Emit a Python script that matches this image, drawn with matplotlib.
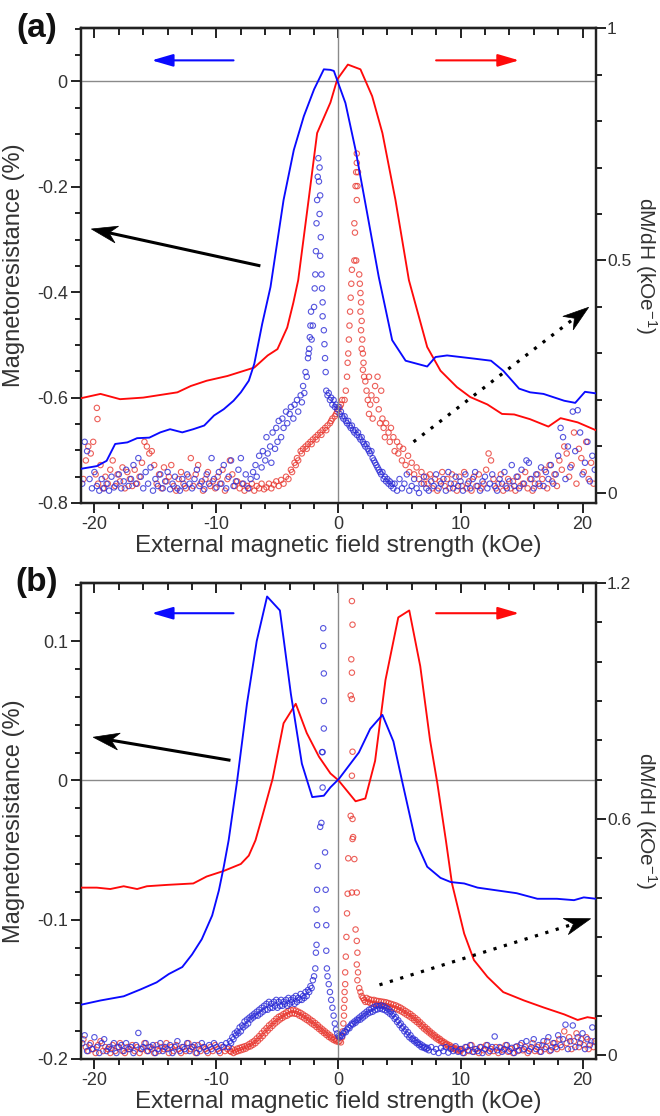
import numpy as np
from matplotlib import pyplot as plt
from matplotlib.ticker import MultipleLocator, FuncFormatter
from matplotlib.patches import Polygon
from matplotlib.transforms import IdentityTransform

plt.rcParams['font.family'] = ['Liberation Sans', 'DejaVu Sans']
plt.rcParams['axes.unicode_minus'] = False
plt.rcParams['mathtext.default'] = 'regular'

BLUE = '#0a0aff'
RED = '#ff0a0a'
TXT = '#333333'

# ---------------- (a) magnetoresistance ----------------
mr_a_blue_h = [-21.07, -19.8, -19.0, -18.3, -17.3, -16.5, -15.5, -14.6, -13.8, -12.8,
               -11.9, -11.0, -10.2, -9.4, -8.6, -8.0, -7.35, -6.9, -6.25, -5.57,
               -4.5, -3.66, -2.84, -2.0, -1.2, -0.66, -0.38, 0.57, 1.4, 2.35,
               3.3, 4.4, 5.5, 7.27, 7.95, 8.9, 11.1, 12.5, 13.5, 14.8,
               15.7, 16.8, 18.5, 19.4, 20.2, 21.1]
mr_a_blue = [-0.735, -0.73, -0.72, -0.688, -0.685, -0.677, -0.676, -0.666, -0.66, -0.666,
             -0.66, -0.653, -0.634, -0.622, -0.606, -0.59, -0.568, -0.536, -0.46, -0.39,
             -0.225, -0.13, -0.066, -0.015, 0.023, 0.022, 0.02, -0.041, -0.13, -0.25,
             -0.371, -0.491, -0.53, -0.541, -0.523, -0.52, -0.526, -0.53, -0.549, -0.583,
             -0.59, -0.593, -0.606, -0.61, -0.589, -0.592]
mr_a_red_h = [-21.07, -19.5, -17.9, -16.0, -13.2, -12.1, -10.8, -9.1, -6.9, -5.8,
              -5.0, -4.2, -3.7, -3.3, -2.45, -1.75, -0.66, -0.1, 0.77, 1.8,
              2.76, 3.6, 4.67, 5.77, 7.27, 8.36, 9.7, 10.8, 12.2, 13.4,
              14.4, 15.7, 17.2, 18.2, 19.6, 21.1]
mr_a_red = [-0.601, -0.593, -0.603, -0.6, -0.59, -0.578, -0.568, -0.559, -0.543, -0.52,
            -0.508, -0.467, -0.42, -0.377, -0.225, -0.098, -0.04, 0.004, 0.032, 0.023,
            -0.028, -0.098, -0.225, -0.377, -0.504, -0.549, -0.58, -0.599, -0.613, -0.631,
            -0.632, -0.641, -0.655, -0.639, -0.647, -0.662]

# ---------------- (a) dM/dH, blue sweep ----------------
dm_a_blue_h = [-21.0, -20.8, -20.6, -20.4, -20.2, -20.0, -19.8, -19.6, -19.4, -19.2,
               -19.0, -18.8, -18.6, -18.4, -18.2, -18.0, -17.8, -17.6, -17.4, -17.2,
               -17.0, -16.8, -16.6, -16.4, -16.2, -16.0, -15.8, -15.6, -15.4, -15.2,
               -15.0, -14.8, -14.6, -14.4, -14.2, -14.0, -13.8, -13.6, -13.4, -13.2,
               -13.0, -12.8, -12.6, -12.4, -12.2, -12.0, -11.8, -11.6, -11.4, -11.2,
               -11.0, -10.8, -10.6, -10.4, -10.2, -10.0, -9.8, -9.6, -9.4, -9.2,
               -9.0, -8.8, -8.6, -8.4, -8.2, -8.0, -7.8, -7.6, -7.4, -7.2,
               # rise towards the switching field
               -7.0, -6.8, -6.7, -6.5, -6.3, -6.2, -6.0, -5.9, -5.8, -5.6,
               -5.5, -5.4, -5.2, -5.1, -5.0, -4.9, -4.7, -4.6, -4.5, -4.3,
               -4.2, -4.0, -3.9, -3.7, -3.6, -3.4, -3.3, -3.1, -3.0, -2.9,
               -2.8, -2.7, -2.6, -2.5, -2.45, -2.4, -2.35, -2.3, -2.25, -2.2,
               -2.1, -2.0, -1.95, -1.9, -1.85, -1.8, -1.75, -1.7, -1.65,
               -1.55, -1.6, -1.5, -1.55, -1.45, -1.5, -1.4, -1.35, -1.3, -1.3,
               -1.2, -1.15, -1.1, -1.05,
               # decay after switching
               -1.0, -0.9, -0.8, -0.7, -0.6, -0.5, -0.4, -0.3, -0.2, -0.1,
               0.0, 0.1, 0.2, 0.3, 0.4, 0.5, 0.6, 0.7, 0.8, 0.9,
               1.0, 1.1, 1.2, 1.3, 1.4, 1.5, 1.6, 1.7, 1.8, 1.9,
               2.0, 2.1, 2.2, 2.3, 2.4, 2.5, 2.6, 2.7, 2.8, 2.9,
               3.0, 3.1, 3.2, 3.3, 3.4, 3.5, 3.6, 3.7, 3.8, 3.9,
               4.0, 4.1, 4.2, 4.3, 4.4, 4.5,
               4.6, 4.8, 5.0, 5.2, 5.4, 5.6, 5.8, 6.0, 6.2, 6.4,
               6.6, 6.8, 7.0, 7.2, 7.4, 7.6, 7.8, 8.0, 8.2, 8.4,
               8.6, 8.8, 9.0, 9.2, 9.4, 9.6, 9.8, 10.0, 10.2, 10.4,
               10.6, 10.8, 11.0, 11.2, 11.4, 11.6, 11.8, 12.0, 12.2, 12.4,
               12.6, 12.8, 13.0, 13.2, 13.4, 13.6, 13.8, 14.0, 14.2, 14.4,
               14.6, 14.8, 15.0, 15.2, 15.4, 15.6, 15.8, 16.0, 16.2, 16.4,
               16.6, 16.8, 17.0, 17.2, 17.4, 17.6, 17.8, 18.0, 18.2, 18.4,
               18.6, 18.8, 19.0, 19.2, 19.4, 19.6, 19.8, 20.0, 20.2, 20.4,
               20.6, 20.8, 21.0]
dm_a_blue = [0.02, 0.11, 0.09, 0.03, 0.01, 0.045, 0.015, 0.005, 0.03, 0.01,
             0.02, 0.005, 0.035, 0.012, 0.02, 0.04, 0.01, 0.025, 0.05, 0.015,
             0.03, 0.06, 0.02, 0.075, 0.035, 0.01, 0.045, 0.02, 0.055, 0.005,
             0.03, 0.015, 0.04, 0.01, 0.025, 0.045, 0.008, 0.02, 0.035, 0.01,
             0.005, 0.03, 0.015, 0.04, 0.02, 0.01, 0.03, 0.05, 0.015, 0.025,
             0.008, 0.04, 0.02, 0.075, 0.03, 0.012, 0.045, 0.02, 0.06, 0.01,
             0.035, 0.07, 0.015, 0.025, 0.05, 0.075, 0.02, 0.04, 0.01, 0.03,
             0.045, 0.06, 0.035, 0.08, 0.055, 0.09, 0.07, 0.12, 0.085, 0.1,
             0.065, 0.13, 0.095, 0.14, 0.11, 0.155, 0.12, 0.16, 0.14, 0.175,
             0.15, 0.17, 0.185, 0.16, 0.19, 0.2, 0.175, 0.21, 0.195, 0.23,
             0.215, 0.26, 0.25, 0.29, 0.3, 0.31, 0.335, 0.36, 0.39, 0.33,
             0.36, 0.40, 0.44, 0.47, 0.52, 0.58, 0.63, 0.68, 0.72,
             0.70, 0.67, 0.64, 0.60, 0.55, 0.51, 0.47, 0.44, 0.41, 0.38,
             0.35, 0.32, 0.29, 0.26,
             0.22, 0.21, 0.215, 0.2, 0.205, 0.19, 0.2, 0.185, 0.19, 0.18,
             0.185, 0.17, 0.175, 0.165, 0.16, 0.165, 0.155, 0.15, 0.155, 0.145,
             0.14, 0.145, 0.135, 0.13, 0.135, 0.125, 0.13, 0.12, 0.115, 0.12,
             0.11, 0.105, 0.1, 0.105, 0.095, 0.09, 0.085, 0.09, 0.075, 0.07,
             0.065, 0.06, 0.055, 0.05, 0.045, 0.04, 0.045, 0.03, 0.035, 0.025,
             0.03, 0.02, 0.025, 0.015, 0.02, 0.01,
             0.02, 0.005, 0.03, 0.01, 0.02, 0.04, 0.005, 0.015, 0.03, 0.01,
             0.0, 0.02, 0.035, 0.01, 0.005, 0.025, 0.015, 0.04, 0.01, 0.02,
             0.03, 0.005, 0.045, 0.02, 0.01, 0.035, 0.015, 0.025, 0.005, 0.04,
             0.02, 0.01, 0.03, 0.045, 0.015, 0.005, 0.025, 0.035, 0.01, 0.02,
             0.04, 0.015, 0.005, 0.03, 0.02, 0.045, 0.01, 0.025, 0.06, 0.015,
             0.035, 0.01, 0.05, 0.02, 0.07, 0.065, 0.03, 0.01, 0.04, 0.02,
             0.055, 0.015, 0.045, 0.03, 0.06, 0.02, 0.04, 0.08, 0.14, 0.12,
             0.03, 0.1, 0.055, 0.175, 0.09, 0.178, 0.13, 0.04, 0.065, 0.11,
             0.025, 0.08, 0.05]

# ---------------- (a) dM/dH, red sweep ----------------
dm_a_red_h = [-20.9, -20.7, -20.5, -20.3, -20.1, -19.9, -19.7, -19.5, -19.3, -19.1,
              -18.9, -18.7, -18.5, -18.3, -18.1, -17.9, -17.7, -17.5, -17.3, -17.1,
              -16.9, -16.7, -16.5, -16.3, -16.1, -15.9, -15.7, -15.5, -15.3, -15.1,
              -14.9, -14.7, -14.5, -14.3, -14.1, -13.9, -13.7, -13.5, -13.3, -13.1,
              -12.9, -12.7, -12.5, -12.3, -12.1, -11.9, -11.7, -11.5, -11.3, -11.1,
              -10.9, -10.7, -10.5, -10.3, -10.1, -9.9, -9.7, -9.5, -9.3, -9.1,
              -8.9, -8.7, -8.5, -8.3, -8.1, -7.9, -7.7, -7.5, -7.3, -7.1,
              -6.9, -6.7, -6.5, -6.3, -6.1, -19.8, -19.75,
              -5.9, -5.7, -5.5, -5.3, -5.1, -4.9, -4.7, -4.5, -4.3, -4.1,
              -3.9, -3.8, -3.6, -3.5, -3.4, -3.3, -3.1, -3.0, -2.9, -2.7,
              -2.6, -2.5, -2.3, -2.2, -2.1, -1.9, -1.8, -1.7, -1.5, -1.4,
              -1.3, -1.1, -1.0, -0.9, -0.7, -0.6, -0.5, -0.3, -0.2, -0.1,
              0.0, 0.1, 0.2, 0.3,
              0.5, 0.6, 0.7, 0.75, 0.8, 0.85, 0.9, 0.95, 1.0, 1.05,
              1.1, 1.3, 1.45, 1.35, 1.3, 1.5, 1.4, 1.55, 1.45, 1.6,
              1.5, 1.5,
              1.7, 1.75, 1.8, 1.85, 1.8, 1.9, 1.85, 1.95, 1.9, 2.0,
              2.05, 2.0, 2.1, 2.2, 2.3, 2.5, 2.4, 2.6, 2.7, 2.5,
              2.8, 3.0, 3.2, 3.1, 3.3, 3.5, 3.4, 3.6, 3.7, 3.8,
              3.9, 4.1, 4.2, 4.3, 4.5, 4.6, 4.8, 4.9, 5.0, 5.2,
              5.3, 5.5, 5.7, 5.8, 6.0, 6.2, 6.4, 6.6, 6.8, 7.0,
              7.2,
              7.3, 7.5, 7.7, 7.9, 8.1, 8.3, 8.5, 8.7, 8.9, 9.1,
              9.3, 9.5, 9.7, 9.9, 10.1, 10.3, 10.5, 10.7, 10.9, 11.1,
              11.3, 11.5, 11.7, 11.9, 12.1, 12.3, 12.5, 12.7, 12.9, 13.1,
              13.3, 13.5, 13.7, 13.9, 14.1, 14.3, 14.5, 14.7, 14.9, 15.1,
              15.3, 15.5, 15.7, 15.9, 16.1, 16.3, 16.5, 16.7, 16.9, 17.1,
              17.3, 17.5, 17.7, 17.9, 18.1, 18.3, 18.5, 18.7, 18.9, 19.1,
              19.3, 19.5, 19.7, 19.9, 20.1, 20.3, 20.5, 20.7, 20.9]
dm_a_red = [0.03, 0.07, 0.1, 0.085, 0.11, 0.04, 0.02, 0.06, 0.01, 0.035,
            0.02, 0.05, 0.07, 0.015, 0.04, 0.025, 0.055, 0.01, 0.045, 0.03,
            0.015, 0.05, 0.02, 0.035, 0.065, 0.11, 0.1, 0.085, 0.09, 0.06,
            0.02, 0.04, 0.01, 0.055, 0.025, 0.035, 0.06, 0.015, 0.005, 0.03,
            0.045, 0.02, 0.01, 0.035, 0.075, 0.015, 0.04, 0.06, 0.02, 0.005,
            0.03, 0.045, 0.015, 0.025, 0.01, 0.035, 0.02, 0.05, 0.005, 0.03,
            0.07, 0.04, 0.015, 0.025, 0.01, 0.02, 0.005, 0.015, 0.01, 0.02,
            0.005, 0.015, 0.01, 0.02, 0.008, 0.183, 0.159,
            0.012, 0.02, 0.01, 0.018, 0.025, 0.015, 0.028, 0.02, 0.035, 0.03,
            0.05, 0.045, 0.065, 0.06, 0.075, 0.07, 0.09, 0.085, 0.095, 0.1,
            0.095, 0.105, 0.11, 0.105, 0.115, 0.12, 0.115, 0.125, 0.13, 0.125,
            0.135, 0.14, 0.135, 0.145, 0.15, 0.155, 0.16, 0.165, 0.17, 0.175,
            0.18, 0.185, 0.19, 0.2,
            0.2, 0.22, 0.25, 0.28, 0.3, 0.33, 0.36, 0.39, 0.42, 0.45,
            0.48, 0.5, 0.5, 0.56, 0.58, 0.63, 0.66, 0.66, 0.69, 0.69,
            0.71, 0.73,
            0.47, 0.45, 0.43, 0.41, 0.39, 0.37, 0.35, 0.33, 0.31, 0.3,
            0.28, 0.265, 0.25, 0.24, 0.22, 0.25, 0.2, 0.19, 0.21, 0.17,
            0.16, 0.23, 0.25, 0.2, 0.18, 0.22, 0.15, 0.16, 0.14, 0.12,
            0.15, 0.13, 0.11, 0.14, 0.12, 0.09, 0.11, 0.085, 0.1, 0.07,
            0.095, 0.06, 0.08, 0.045, 0.065, 0.04, 0.055, 0.03, 0.045, 0.02,
            0.035,
            0.02, 0.04, 0.01, 0.03, 0.005, 0.025, 0.045, 0.015, 0.03, 0.01,
            0.04, 0.02, 0.005, 0.035, 0.015, 0.045, 0.01, 0.025, 0.005, 0.035,
            0.015, 0.04, 0.01, 0.02, 0.05, 0.085, 0.07, 0.03, 0.01, 0.02,
            0.04, 0.005, 0.015, 0.03, 0.01, 0.025, 0.005, 0.035, 0.015, 0.02,
            0.045, 0.01, 0.03, 0.005, 0.02, 0.04, 0.015, 0.03, 0.05, 0.01,
            0.06, 0.025, 0.04, 0.015, 0.07, 0.05, 0.1, 0.085, 0.035, 0.06,
            0.13, 0.02, 0.095, 0.075, 0.045, 0.11, 0.03, 0.065, 0.02]

# ---------------- (b) magnetoresistance ----------------
mr_b_blue_h = [-21.07, -19.5, -17.6, -16.2, -14.9, -13.9, -12.8, -12.0, -11.2, -10.35,
               -9.8, -9.4, -9.0, -8.3, -7.5, -6.7, -5.85, -4.8, -3.9, -3.0,
               -2.15, -1.2, -0.66, 0.03, 1.67, 2.6, 3.6, 4.5, 5.2, 6.3,
               7.27, 8.36, 9.2, 10.3, 11.4, 13.0, 14.6, 16.3, 17.9, 19.3,
               20.1, 21.1]
mr_b_blue = [-0.161, -0.158, -0.155, -0.15, -0.145, -0.139, -0.134, -0.125, -0.114, -0.097,
             -0.079, -0.062, -0.043, 0.0, 0.055, 0.1, 0.132, 0.122, 0.062, 0.012,
             -0.012, -0.011, -0.005, 0.001, 0.02, 0.037, 0.047, 0.028, 0.0, -0.043,
             -0.062, -0.07, -0.073, -0.074, -0.077, -0.079, -0.081, -0.085, -0.085, -0.086,
             -0.084, -0.085]
mr_b_red_h = [-21.07, -19.8, -18.7, -17.6, -16.5, -15.7, -14.0, -11.9, -10.8, -9.4,
              -8.0, -7.35, -6.8, -6.25, -5.4, -4.5, -3.5, -2.6, -1.6, -0.66,
              0.0, 1.4, 2.2, 3.0, 3.85, 4.9, 5.8, 6.7, 7.5, 8.1,
              8.8, 9.3, 10.3, 11.1, 12.2, 13.5, 15.2, 16.8, 18.5, 19.6,
              20.4, 21.1]
mr_b_red = [-0.077, -0.077, -0.078, -0.076, -0.078, -0.076, -0.075, -0.074, -0.069, -0.065,
            -0.06, -0.054, -0.043, -0.026, 0.001, 0.041, 0.055, 0.034, 0.017, 0.005,
            0.0, -0.015, -0.013, 0.014, 0.072, 0.117, 0.122, 0.082, 0.029, -0.002,
            -0.043, -0.074, -0.11, -0.129, -0.141, -0.152, -0.158, -0.163, -0.168, -0.172,
            -0.170, -0.171]

# ---------------- (b) dM/dH, blue sweep ----------------
dm_b_blue_h = [-21.0, -20.8, -20.6, -20.4, -20.2, -20.0, -19.8, -19.6, -19.4, -19.2,
               -19.0, -18.8, -18.6, -18.4, -18.2, -18.0, -17.8, -17.6, -17.4, -17.2,
               -17.0, -16.8, -16.6, -16.4, -16.2, -16.0, -15.8, -15.6, -15.4, -15.2,
               -15.0, -14.8, -14.6, -14.4, -14.2, -14.0, -13.8, -13.6, -13.4, -13.2,
               -13.0, -12.8, -12.6, -12.4, -12.2, -12.0, -11.8, -11.6, -11.4, -11.2,
               -11.0, -10.8, -10.6, -10.4, -10.2, -10.0, -9.8, -9.6, -9.4, -9.2,
               -9.0, -8.9, -8.8, -8.7, -8.6, -8.5, -8.4, -8.3, -8.2, -8.1,
               -8.0, -7.9, -7.8, -7.7, -7.6, -7.5, -7.4, -7.3, -7.2, -7.1,
               -7.0, -6.9, -6.8, -6.7, -6.6, -6.5, -6.4, -6.3, -6.2, -6.1,
               -6.0, -5.9, -5.8, -5.7, -5.6, -5.5, -5.4, -5.3, -5.2, -5.1,
               -5.0, -4.9, -4.8, -4.7, -4.6, -4.5, -4.4, -4.3, -4.2, -4.1,
               -4.0, -3.9, -3.8, -3.7, -3.6, -3.5, -3.4, -3.3, -3.2, -3.1,
               -3.0, -2.9, -2.8, -2.7, -2.6, -2.5, -2.4, -2.3, -2.2, -2.1,
               -2.0,
               -1.9, -1.85, -1.8, -1.75, -1.8, -1.75, -1.7,
               -1.25, -1.25, -1.2, -1.2, -1.3, -1.35, -1.4, -1.5, -1.1, -1.05,
               -1.0, -1.0, -0.95, -0.9, -1.2, -1.3,
               -0.8, -0.7, -0.6, -0.5, -0.4, -0.3, -0.2, -0.1, 0.0, 0.1,
               0.2, 0.3, 0.4, 0.5, 0.6, 0.7, 0.8, 0.9, 1.0, 1.1,
               1.2, 1.3, 1.4, 1.5, 1.6, 1.7, 1.8, 1.9, 2.0, 2.1,
               2.2, 2.3, 2.4, 2.5, 2.6, 2.7, 2.8, 2.9, 3.0, 3.1,
               3.2, 3.3, 3.4, 3.5, 3.6, 3.7, 3.8, 3.9, 4.0, 4.1,
               4.2, 4.3, 4.4, 4.5, 4.6, 4.7, 4.8, 4.9, 5.0, 5.1,
               5.2, 5.3, 5.4, 5.5, 5.6, 5.7, 5.8, 5.9, 6.0, 6.1,
               6.2, 6.3, 6.4, 6.5, 6.6, 6.7, 6.8, 6.9, 7.0, 7.1,
               7.2, 7.3,
               7.4, 7.6, 7.8, 8.0, 8.2, 8.4, 8.6, 8.8, 9.0, 9.2,
               9.4, 9.6, 9.8, 10.0, 10.2, 10.4, 10.6, 10.8, 11.0, 11.2,
               11.4, 11.6, 11.8, 12.0, 12.2, 12.4, 12.6, 12.8, 13.0, 13.2,
               13.4, 13.6, 13.8, 14.0, 14.2, 14.4, 14.6, 14.8, 15.0, 15.2,
               15.4, 15.6, 15.8, 16.0, 16.2, 16.4, 16.6, 16.8, 17.0, 17.2,
               17.4, 17.6, 17.8, 18.0, 18.2, 18.4, 18.6, 18.8, 19.0, 19.2,
               19.4, 19.6, 19.8, 20.0, 20.2, 20.4, 20.6, 20.8, 21.0]
dm_b_blue = [0.03, 0.05, 0.01, 0.025, 0.015, 0.045, 0.02, 0.005, 0.03, 0.04,
             0.01, 0.02, 0.015, 0.03, 0.005, 0.02, 0.025, 0.01, 0.03, 0.015,
             0.02, 0.005, 0.025, 0.056, 0.015, 0.02, 0.03, 0.01, 0.02, 0.025,
             0.005, 0.015, 0.03, 0.01, 0.02, 0.015, 0.025, 0.005, 0.02, 0.035,
             0.01, 0.02, 0.015, 0.03, 0.01, 0.02, 0.025, 0.005, 0.015, 0.03,
             0.02, 0.01, 0.025, 0.015, 0.03, 0.02, 0.01, 0.025, 0.02, 0.03,
             0.02, 0.035, 0.03, 0.045, 0.04, 0.055, 0.05, 0.06, 0.055, 0.07,
             0.06, 0.075, 0.07, 0.085, 0.075, 0.09, 0.08, 0.095, 0.09, 0.1,
             0.095, 0.105, 0.1, 0.11, 0.1, 0.115, 0.105, 0.12, 0.11, 0.125,
             0.115, 0.13, 0.115, 0.135, 0.12, 0.13, 0.12, 0.135, 0.125, 0.14,
             0.12, 0.135, 0.125, 0.14, 0.125, 0.135, 0.13, 0.14, 0.125, 0.145,
             0.13, 0.14, 0.135, 0.145, 0.13, 0.15, 0.135, 0.145, 0.14, 0.155,
             0.14, 0.15, 0.145, 0.16, 0.15, 0.165, 0.16, 0.175, 0.17, 0.19,
             0.2,
             0.22, 0.26, 0.28, 0.33, 0.37, 0.42, 0.48,
             1.085, 1.04, 0.97, 0.83, 0.77, 0.77, 0.59, 0.58, 0.515, 0.42,
             0.33, 0.265, 0.22, 0.2, 0.9, 0.68,
             0.18, 0.16, 0.14, 0.12, 0.1, 0.08, 0.065, 0.055, 0.048, 0.045,
             0.05, 0.048, 0.055, 0.06, 0.058, 0.065, 0.07, 0.068, 0.075, 0.08,
             0.078, 0.085, 0.082, 0.09, 0.088, 0.095, 0.09, 0.1, 0.095, 0.105,
             0.1, 0.11, 0.105, 0.115, 0.108, 0.118, 0.11, 0.122, 0.114, 0.125,
             0.116, 0.124, 0.118, 0.126, 0.116, 0.124, 0.114, 0.12, 0.11, 0.116,
             0.105, 0.11, 0.1, 0.104, 0.092, 0.096, 0.084, 0.088, 0.076, 0.08,
             0.068, 0.072, 0.06, 0.065, 0.052, 0.058, 0.045, 0.05, 0.04, 0.042,
             0.035, 0.038, 0.03, 0.032, 0.025, 0.028, 0.02, 0.024, 0.018, 0.02,
             0.015, 0.018,
             0.012, 0.02, 0.008, 0.015, 0.005, 0.018, 0.01, 0.02, 0.006, 0.015,
             0.01, 0.022, 0.008, 0.015, 0.005, 0.02, 0.012, 0.025, 0.008, 0.015,
             0.01, 0.02, 0.005, 0.015, 0.025, 0.01, 0.02, 0.047, 0.012, 0.02,
             0.008, 0.015, 0.025, 0.01, 0.018, 0.005, 0.022, 0.012, 0.03, 0.015,
             0.035, 0.01, 0.02, 0.04, 0.015, 0.025, 0.008, 0.035, 0.02, 0.045,
             0.012, 0.03, 0.02, 0.05, 0.025, 0.04, 0.077, 0.015, 0.035, 0.075,
             0.02, 0.045, 0.03, 0.055, 0.015, 0.04, 0.025, 0.07, 0.035]

# ---------------- (b) dM/dH, red sweep ----------------
dm_b_red_h = [-20.9, -20.7, -20.5, -20.3, -20.1, -19.9, -19.7, -19.5, -19.3, -19.1,
              -18.9, -18.7, -18.5, -18.3, -18.1, -17.9, -17.7, -17.5, -17.3, -17.1,
              -16.9, -16.7, -16.5, -16.3, -16.1, -15.9, -15.7, -15.5, -15.3, -15.1,
              -14.9, -14.7, -14.5, -14.3, -14.1, -13.9, -13.7, -13.5, -13.3, -13.1,
              -12.9, -12.7, -12.5, -12.3, -12.1, -11.9, -11.7, -11.5, -11.3, -11.1,
              -10.9, -10.7, -10.5, -10.3, -10.1, -9.9, -9.7, -9.5, -9.3, -9.1,
              -8.9,
              -8.8, -8.7, -8.6, -8.5, -8.4, -8.3, -8.2, -8.1, -8.0, -7.9,
              -7.8, -7.7, -7.6, -7.5, -7.4, -7.3, -7.2, -7.1, -7.0, -6.9,
              -6.8, -6.7, -6.6, -6.5, -6.4, -6.3, -6.2, -6.1, -6.0, -5.9,
              -5.8, -5.7, -5.6, -5.5, -5.4, -5.3, -5.2, -5.1, -5.0, -4.9,
              -4.8, -4.7, -4.6, -4.5, -4.4, -4.3, -4.2, -4.1, -4.0, -3.9,
              -3.8, -3.7, -3.6, -3.5, -3.4, -3.3, -3.2, -3.1, -3.0, -2.9,
              -2.8, -2.7, -2.6, -2.5, -2.4, -2.3, -2.2, -2.1, -2.0, -1.9,
              -1.8, -1.7, -1.6, -1.5, -1.4, -1.3, -1.2, -1.1, -1.0, -0.9,
              -0.8, -0.7, -0.6, -0.5, -0.4, -0.3, -0.2, -0.1, 0.0, 0.1,
              0.2,
              0.3, 0.35, 0.4, 0.45, 0.45, 0.5, 0.5, 0.55, 0.55, 0.6,
              0.65, 0.7, 0.75, 0.8,
              1.1, 1.15, 1.05, 1.1, 1.0, 1.1, 1.15, 1.1, 1.0, 1.15,
              1.2, 1.15, 1.3, 1.1, 1.5, 1.4, 1.5, 1.55, 1.5, 1.6,
              1.55, 1.7, 1.8, 1.9, 2.0,
              2.1, 2.2, 2.3, 2.4, 2.5, 2.6, 2.7, 2.8, 2.9, 3.0,
              3.1, 3.2, 3.3, 3.4, 3.5, 3.6, 3.7, 3.8, 3.9, 4.0,
              4.1, 4.2, 4.3, 4.4, 4.5, 4.6, 4.7, 4.8, 4.9, 5.0,
              5.1, 5.2, 5.3, 5.4, 5.5, 5.6, 5.7, 5.8, 5.9, 6.0,
              6.1, 6.2, 6.3, 6.4, 6.5, 6.6, 6.7, 6.8, 6.9, 7.0,
              7.1, 7.2, 7.3, 7.4, 7.5, 7.6, 7.7, 7.8, 7.9, 8.0,
              8.1, 8.2, 8.3, 8.4, 8.5, 8.6, 8.7, 8.8, 8.9, 9.0,
              9.1, 9.2, 9.3, 9.4, 9.5, 9.6, 9.7, 9.8, 9.9, 10.0,
              10.1, 10.3, 10.5, 10.7, 10.9, 11.1, 11.3, 11.5, 11.7, 11.9,
              12.1, 12.3, 12.5, 12.7, 12.9, 13.1, 13.3, 13.5, 13.7, 13.9,
              14.1, 14.3, 14.5, 14.7, 14.9, 15.1, 15.3, 15.5, 15.7, 15.9,
              16.1, 16.3, 16.5, 16.7, 16.9, 17.1, 17.3, 17.5, 17.7, 17.9,
              18.1, 18.3, 18.5, 18.7, 18.9, 19.1, 19.3, 19.5, 19.7, 19.9,
              20.1, 20.3, 20.5, 20.7, 20.9]
dm_b_red = [0.04, 0.02, 0.01, 0.03, 0.015, 0.005, 0.025, 0.035, 0.01, 0.02,
            0.015, 0.005, 0.025, 0.01, 0.02, 0.03, 0.01, 0.005, 0.02, 0.015,
            0.025, 0.01, 0.02, 0.005, 0.015, 0.03, 0.01, 0.02, 0.015, 0.005,
            0.025, 0.01, 0.02, 0.015, 0.03, 0.005, 0.02, 0.01, 0.025, 0.015,
            0.005, 0.02, 0.01, 0.03, 0.015, 0.02, 0.005, 0.025, 0.01, 0.02,
            0.015, 0.005, 0.02, 0.01, 0.025, 0.015, 0.005, 0.02, 0.01, 0.015,
            0.01,
            0.008, 0.015, 0.005, 0.012, 0.008, 0.016, 0.01, 0.018, 0.012, 0.02,
            0.014, 0.022, 0.016, 0.024, 0.02, 0.028, 0.022, 0.032, 0.026, 0.036,
            0.03, 0.042, 0.036, 0.048, 0.042, 0.055, 0.048, 0.062, 0.055, 0.068,
            0.062, 0.075, 0.068, 0.08, 0.074, 0.086, 0.08, 0.092, 0.085, 0.097,
            0.09, 0.1, 0.094, 0.104, 0.098, 0.108, 0.1, 0.112, 0.104, 0.114,
            0.106, 0.115, 0.105, 0.113, 0.104, 0.11, 0.1, 0.107, 0.097, 0.103,
            0.093, 0.099, 0.089, 0.095, 0.085, 0.09, 0.08, 0.086, 0.076, 0.081,
            0.071, 0.076, 0.066, 0.07, 0.061, 0.065, 0.056, 0.06, 0.051, 0.055,
            0.046, 0.05, 0.042, 0.045, 0.038, 0.041, 0.035, 0.038, 0.033, 0.036,
            0.032,
            0.045, 0.06, 0.08, 0.1, 0.12, 0.14, 0.16, 0.18, 0.21, 0.25,
            0.3, 0.36, 0.41, 0.5,
            1.154, 1.094, 1.006, 0.972, 0.914, 0.905, 0.771, 0.71, 0.608, 0.6,
            0.554, 0.549, 0.498, 0.413, 0.413, 0.319, 0.29, 0.26, 0.23, 0.21,
            0.19, 0.17, 0.16, 0.15, 0.145,
            0.14, 0.135, 0.145, 0.135, 0.142, 0.132, 0.14, 0.13, 0.14, 0.13,
            0.138, 0.128, 0.137, 0.127, 0.136, 0.126, 0.135, 0.125, 0.134, 0.124,
            0.132, 0.122, 0.13, 0.12, 0.128, 0.118, 0.126, 0.116, 0.123, 0.113,
            0.12, 0.11, 0.116, 0.106, 0.112, 0.102, 0.108, 0.098, 0.104, 0.094,
            0.099, 0.089, 0.094, 0.084, 0.089, 0.079, 0.083, 0.073, 0.077, 0.067,
            0.071, 0.062, 0.066, 0.057, 0.06, 0.052, 0.055, 0.047, 0.05, 0.042,
            0.045, 0.038, 0.041, 0.034, 0.036, 0.03, 0.032, 0.026, 0.028, 0.022,
            0.025, 0.019, 0.021, 0.016, 0.018, 0.013, 0.016, 0.011, 0.014, 0.01,
            0.015, 0.005, 0.02, 0.01, 0.025, 0.008, 0.015, 0.005, 0.02, 0.012,
            0.025, 0.006, 0.015, 0.01, 0.02, 0.005, 0.018, 0.012, 0.025, 0.008,
            0.015, 0.005, 0.02, 0.01, 0.025, 0.012, 0.02, 0.005, 0.015, 0.03,
            0.01, 0.02, 0.008, 0.025, 0.015, 0.035, 0.01, 0.02, 0.03, 0.015,
            0.04, 0.02, 0.06, 0.03, 0.045, 0.015, 0.035, 0.055, 0.02, 0.04,
            0.025, 0.045, 0.015, 0.035, 0.02]


def fmt(v, pos):
    return '%g' % round(v, 3)


def stealth_head(ax, tail, tip, length=26, half_width=8.5, notch=8):
    # notched arrow head drawn in pixel space so it keeps its shape
    p0 = ax.transData.transform(tail)
    p1 = ax.transData.transform(tip)
    d = (p1 - p0) / np.hypot(*(p1 - p0))
    n = np.array([-d[1], d[0]])
    pts = [p1, p1 - length * d + half_width * n, p1 - (length - notch) * d,
           p1 - length * d - half_width * n]
    ax.add_patch(Polygon(pts, closed=True, facecolor='black', edgecolor='black',
                         lw=0.5, transform=IdentityTransform(), zorder=6,
                         clip_on=False))
    # return where the shaft should stop
    back = p1 - (length - notch) * d
    return ax.transData.inverted().transform(back)


def panel(rect, letter, mr_lines, dm_sets, mr_lim, mr_major, mr_minor,
          dm_lim, dm_major, arrow_y, black, dotted):
    ax = fig.add_axes(rect)
    ax2 = ax.twinx()
    # lines should sit on top of the circles
    ax.set_zorder(ax2.get_zorder() + 1)
    ax.patch.set_visible(False)

    for h, dm, c in dm_sets:
        ax2.scatter(h, dm, s=15, facecolors='none', edgecolors=c,
                    linewidths=0.8, alpha=0.8)
    ax.axhline(0, color='#8a8a8a', lw=1.0, zorder=1)
    ax.axvline(0, color='#8a8a8a', lw=1.0, zorder=1)
    for h, mr, c in mr_lines:
        ax.plot(h, mr, color=c, lw=1.35, zorder=3)

    ax.set_xlim(-21.1, 21.1)
    ax.set_ylim(*mr_lim)
    ax2.set_ylim(*dm_lim)

    ax.xaxis.set_major_locator(MultipleLocator(10))
    ax.xaxis.set_minor_locator(MultipleLocator(2))
    ax.yaxis.set_major_locator(MultipleLocator(mr_major))
    ax.yaxis.set_minor_locator(MultipleLocator(mr_minor))
    ax2.yaxis.set_major_locator(MultipleLocator(dm_major))
    ax2.yaxis.set_minor_locator(MultipleLocator(0.1))
    for a in (ax, ax2):
        a.yaxis.set_major_formatter(FuncFormatter(fmt))
        for s in a.spines.values():
            s.set_linewidth(1.6)
            s.set_color('#222222')
    ax.xaxis.set_major_formatter(FuncFormatter(fmt))

    ax.tick_params(which='both', direction='out', colors='#222222', width=1.4,
                   labelcolor=TXT, labelsize=13, right=False, pad=2.5)
    ax.tick_params(which='major', length=7)
    ax.tick_params(which='minor', length=4)
    ax2.tick_params(which='both', direction='out', colors='#222222', width=1.4,
                    labelcolor=TXT, labelsize=12.5, pad=1.0)
    ax2.tick_params(which='major', length=7)
    ax2.tick_params(which='minor', length=4)

    # inward ticks along the top edge
    top = ax.secondary_xaxis('top')
    top.xaxis.set_major_locator(MultipleLocator(10))
    top.xaxis.set_minor_locator(MultipleLocator(2))
    top.tick_params(which='both', direction='in', labeltop=False, width=1.4,
                    colors='#222222')
    top.tick_params(which='major', length=7)
    top.tick_params(which='minor', length=5)
    top.spines['top'].set_linewidth(1.6)

    ax.set_xlabel('External magnetic field strength (kOe)', fontsize=17.5,
                  color=TXT, labelpad=1)
    ax.set_ylabel('Magnetoresistance (%)', fontsize=17, color=TXT)
    ax.yaxis.set_label_coords(-0.109, 0.5)
    ax2.set_ylabel('dM/dH (kOe$^{-1}$)', fontsize=15, color=TXT,
                   rotation=270, va='center')
    ax2.yaxis.set_label_coords(1.097, 0.5)

    # sweep direction arrows
    ax.annotate('', xy=(-15.3, arrow_y), xytext=(-8.6, arrow_y),
                arrowprops=dict(arrowstyle='-|>,head_length=1.3,head_width=0.38',
                                color=BLUE, lw=1.5, shrinkA=0, shrinkB=0,
                                mutation_scale=10))
    ax.annotate('', xy=(14.8, arrow_y), xytext=(8.0, arrow_y),
                arrowprops=dict(arrowstyle='-|>,head_length=1.3,head_width=0.38',
                                color=RED, lw=1.5, shrinkA=0, shrinkB=0,
                                mutation_scale=10))

    # which curve belongs to which axis
    end = stealth_head(ax, black[0], black[1])
    ax.plot([black[0][0], end[0]], [black[0][1], end[1]], color='black',
            lw=2.2, solid_capstyle='butt', zorder=5)
    end = stealth_head(ax, dotted[0], dotted[1])
    ax.plot([dotted[0][0], end[0]], [dotted[0][1], end[1]], color='black',
            lw=2.3, ls=(0, (1, 2.4)), dash_capstyle='butt', zorder=5)

    fig.text(0.056, rect[1] + rect[3] + 0.0, letter, fontsize=24,
             fontweight='bold', color='#111111', ha='center', va='center')
    return ax, ax2


fig = plt.figure(figsize=(6.6, 11.16), dpi=100)

panel([0.1227, 0.5493, 0.7803, 0.4256], '(a)',
      [(mr_a_red_h, mr_a_red, RED), (mr_a_blue_h, mr_a_blue, BLUE)],
      [(dm_a_red_h, dm_a_red, '#e8372f'), (dm_a_blue_h, dm_a_blue, '#2b2bd6')],
      (-0.8, 0.1014), 0.2, 0.05, (-0.0215, 1.0), 0.5, 0.04,
      ((-6.4, -0.350), (-20.25, -0.28)),
      ((6.15, -0.684), (20.5, -0.4286)))

panel([0.1227, 0.0511, 0.7803, 0.4265], '(b)',
      [(mr_b_red_h, mr_b_red, RED), (mr_b_blue_h, mr_b_blue, BLUE)],
      [(dm_b_red_h, dm_b_red, '#e8372f'), (dm_b_blue_h, dm_b_blue, '#2b2bd6')],
      (-0.2, 0.1417), 0.1, 0.02, (-0.0102, 1.2), 0.6, 0.12,
      ((-8.85, 0.0144), (-20.1, 0.031)),
      ((3.36, -0.1468), (20.66, -0.0993)))

fig.savefig('out.png', dpi=100)
